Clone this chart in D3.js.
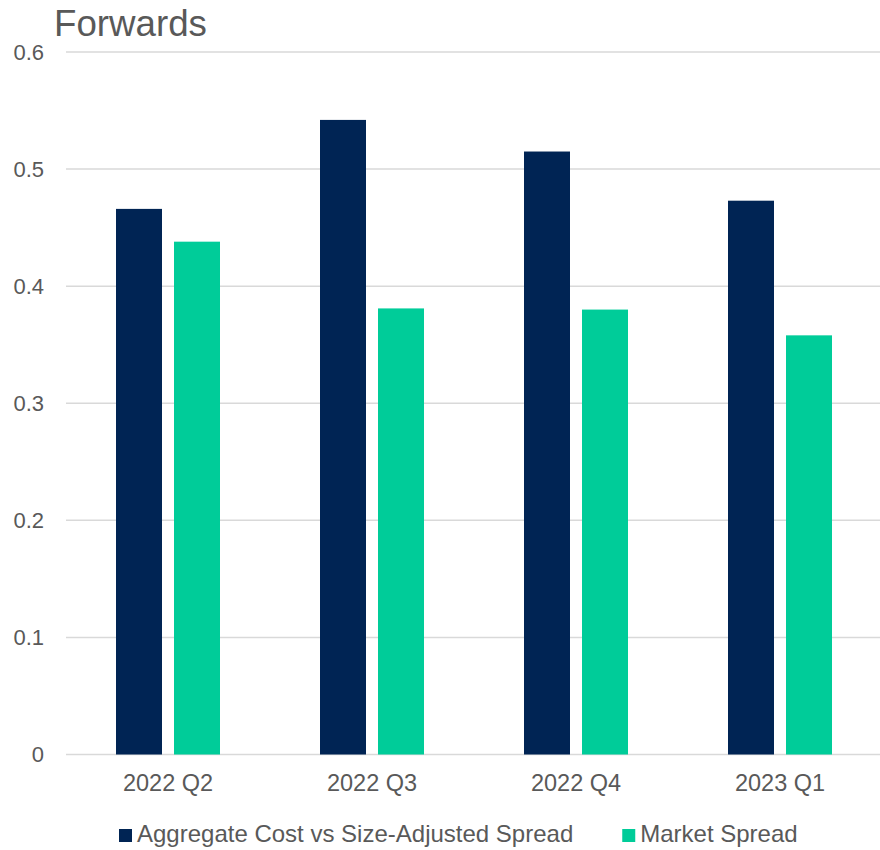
<!DOCTYPE html>
<html>
<head>
<meta charset="utf-8">
<script src="https://cdn.jsdelivr.net/npm/d3@7"></script>
<style>
  html, body { margin: 0; padding: 0; background: #fff; }
  svg text { font-family: "Liberation Sans", Arial, sans-serif; fill: #595959; }
</style>
</head>
<body>
<svg id="chart" width="880" height="850"></svg>
<script>
// Quarterly spreads for forwards
const categories = ["2022 Q2", "2022 Q3", "2022 Q4", "2023 Q1"];
const seriesNames = ["Aggregate Cost vs Size-Adjusted Spread", "Market Spread"];
const aggregateCost = [0.466, 0.542, 0.515, 0.473];
const marketSpread = [0.438, 0.381, 0.380, 0.358];
const yTicks = [0, 0.1, 0.2, 0.3, 0.4, 0.5, 0.6];
const colors = ["#002454", "#00CC99"];

const svg = d3.select("#chart");
const margin = { left: 66, right: 882, top: 52, bottom: 754.5 };

const x = d3.scaleBand()
  .domain(categories)
  .range([margin.left, margin.right])
  .paddingInner(0)
  .paddingOuter(0);

// Two bars per quarter: 46px wide with a 12px gap, centred in the band
const inner = d3.scaleBand()
  .domain(seriesNames)
  .range([50, x.bandwidth() - 50])
  .paddingInner(12 / 58);

const y = d3.scaleLinear().domain([0, 0.6]).range([margin.bottom, margin.top]);

// Title
svg.append("text")
  .attr("x", 54)
  .attr("y", 36)
  .style("font-size", "36.7px")
  .text("Forwards");

// Gridlines
svg.append("g")
  .selectAll("line")
  .data(yTicks)
  .join("line")
  .attr("x1", margin.left)
  .attr("x2", 880)
  .attr("y1", d => y(d))
  .attr("y2", d => y(d))
  .attr("stroke", "#D9D9D9")
  .attr("stroke-width", 1.5);

// Y axis labels
const yAxis = d3.axisLeft(y)
  .tickValues(yTicks)
  .tickFormat(d => d === 0 ? "0" : d3.format(".1f")(d))
  .tickSize(0)
  .tickPadding(0);
const yG = svg.append("g")
  .attr("transform", "translate(44,0)")
  .call(yAxis);
yG.select(".domain").remove();
yG.selectAll("text")
  .style("font-size", "22px")
  .style("font-family", "'Liberation Sans', Arial, sans-serif")
  .attr("fill", "#595959");

// Bars
const rows = categories.map((c, i) => ({ cat: c, vals: [aggregateCost[i], marketSpread[i]] }));
const groups = svg.append("g")
  .selectAll("g")
  .data(rows)
  .join("g")
  .attr("transform", d => `translate(${x(d.cat)},0)`);

groups.selectAll("rect")
  .data(d => d.vals.map((v, j) => ({ name: seriesNames[j], v, j })))
  .join("rect")
  .attr("x", d => inner(d.name))
  .attr("width", inner.bandwidth())
  .attr("y", d => y(d.v))
  .attr("height", d => y(0) - y(d.v))
  .attr("fill", d => colors[d.j]);

// X axis labels
const xAxis = d3.axisBottom(x).tickSize(0).tickPadding(0);
const xG = svg.append("g")
  .attr("transform", `translate(0,${margin.bottom + 20})`)
  .call(xAxis);
xG.select(".domain").remove();
xG.selectAll("text")
  .style("font-size", "23.5px")
  .style("font-family", "'Liberation Sans', Arial, sans-serif")
  .attr("fill", "#595959");

// Legend
const legend = svg.append("g").attr("transform", "translate(119,842)");
let lx = 0;
seriesNames.forEach((name, j) => {
  const item = legend.append("g").attr("transform", `translate(${lx},0)`);
  item.append("rect")
    .attr("x", 0)
    .attr("y", -13)
    .attr("width", 13)
    .attr("height", 13)
    .attr("fill", colors[j]);
  const t = item.append("text")
    .attr("x", 18)
    .attr("y", 0)
    .style("font-size", "24px")
    .text(name);
  lx += 18 + t.node().getComputedTextLength() + 49;
});
</script>
</body>
</html>
